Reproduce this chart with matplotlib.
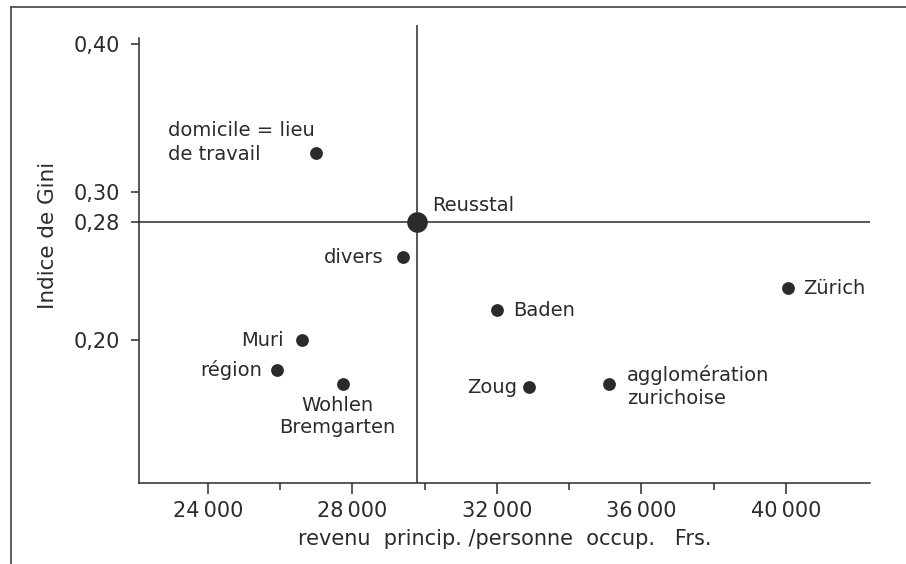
import matplotlib.pyplot as plt
from matplotlib.lines import Line2D

# data
names = ["domicile = lieu\nde travail", "divers", "Muri", "région",
         "Wohlen\nBremgarten", "Baden", "Zürich", "Zoug",
         "agglomération\nzurichoise"]
revenu = [27000, 29400, 26600, 25900, 27750, 32000, 40050, 32900, 35100]
gini = [0.326, 0.256, 0.200, 0.180, 0.170, 0.220, 0.235, 0.168, 0.170]

ref_name = "Reusstal"
ref_revenu = 29800
ref_gini = 0.28

x_major = [24000, 28000, 32000, 36000, 40000]
x_labels = ["24\u2009000", "28\u2009000", "32\u2009000", "36\u2009000", "40\u2009000"]
x_minor = [26000, 30000, 34000, 38000]
y_ticks = [0.20, 0.28, 0.30, 0.40]
y_labels = ["0,20", "0,28", "0,30", "0,40"]

# label offsets in pixels, alignment, line spacing
label_pos = [(-2, 11, "right", "left", 1.35), (-20, 0, "right", "left", 1.0),
             (-18, 0, "right", "left", 1.0), (-14, 0, "right", "left", 1.0),
             (-6, -32, "center", "center", 1.15), (16, 0, "left", "left", 1.0),
             (15, 0, "left", "left", 1.0), (-12, 0, "right", "left", 1.0),
             (18, -2, "left", "left", 1.25)]

ink = "#2b2b2b"
plt.rcParams["font.family"] = "DejaVu Sans"

fig = plt.figure(figsize=(9.06, 5.64), dpi=100)
ax = fig.add_axes([139 / 906, 1 - 483 / 564, (870 - 139) / 906, (483 - 25) / 564])

ax.set_xlim(22090, 42330)
ax.set_ylim(0.1034, 0.4128)

ax.scatter(revenu, gini, s=85, color=ink, zorder=3, linewidths=0)
ax.scatter([ref_revenu], [ref_gini], s=220, color=ink, zorder=3, linewidths=0)
ax.axvline(ref_revenu, color=ink, lw=1.1, zorder=2)
ax.axhline(ref_gini, color=ink, lw=1.1, zorder=2)

for n, x, y, (dx, dy, ha, ma, ls) in zip(names, revenu, gini, label_pos):
    ax.annotate(n, (x, y), xytext=(dx, dy), textcoords="offset pixels",
                ha=ha, va="center", multialignment=ma, fontsize=14,
                color=ink, linespacing=ls)
ax.annotate(ref_name, (ref_revenu, ref_gini), xytext=(15, 16),
            textcoords="offset pixels", ha="left", va="center",
            fontsize=14, color=ink)

ax.set_xticks(x_major)
ax.set_xticklabels(x_labels)
ax.set_xticks(x_minor, minor=True)
ax.set_yticks(y_ticks)
ax.set_yticklabels(y_labels)
ax.tick_params(axis="x", which="major", length=8, width=1.1, pad=5,
               labelsize=15, colors=ink)
ax.tick_params(axis="x", which="minor", length=5, width=1.1, colors=ink)
ax.tick_params(axis="y", length=6, width=1.1, pad=8, labelsize=15, colors=ink)

for s in ["top", "right"]:
    ax.spines[s].set_visible(False)
for s in ["left", "bottom"]:
    ax.spines[s].set_color(ink)
    ax.spines[s].set_linewidth(1.1)
ax.spines["left"].set_bounds(0.1034, 0.404)

ax.set_xlabel("revenu  princip. /personne  occup.   Frs.", fontsize=15,
              color=ink, labelpad=6)
fig.text(48 / 906, 1 - 235 / 564, "Indice de Gini", rotation=90,
         ha="center", va="center", fontsize=15.5, color=ink)

# scanned page frame
fx = 11 / 906
fy = 1 - 7 / 564
fig.add_artist(Line2D([fx, fx], [0, fy], color="#444444", lw=1.2))
fig.add_artist(Line2D([fx, 1], [fy, fy], color="#444444", lw=1.2))

fig.savefig("out.png", dpi=100)
